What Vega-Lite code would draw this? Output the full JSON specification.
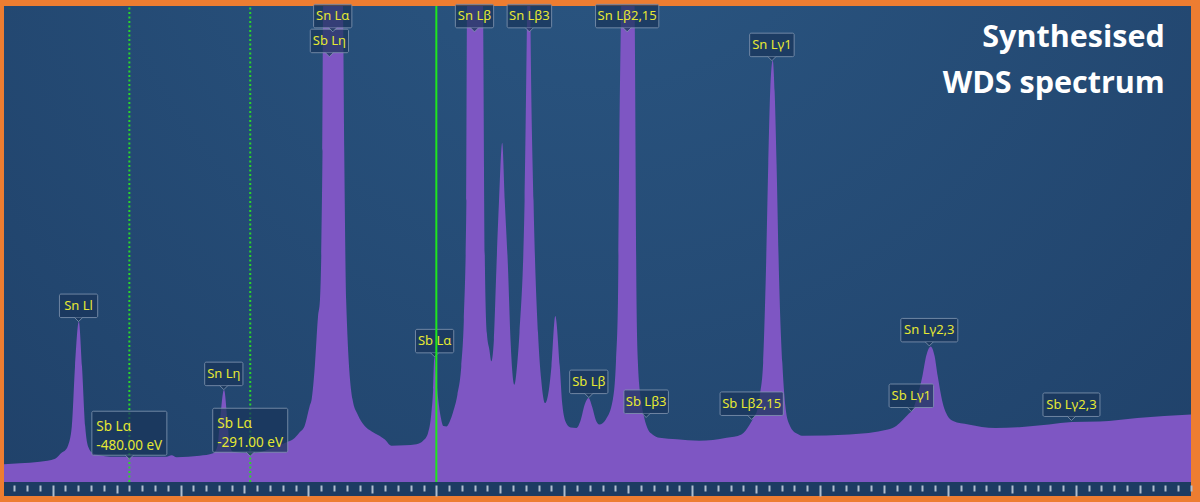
{
  "$schema": "https://vega.github.io/schema/vega-lite/v6.json",
  "width": 1200,
  "height": 502,
  "autosize": {"type": "fit", "contains": "padding"},
  "padding": {"left": 4, "top": 4, "right": 8, "bottom": 5},
  "background": "#ED7D31",
  "view": {
    "stroke": null,
    "fill": {"gradient": "radial", "x1": 0.5, "y1": 0.15, "r1": 0, "x2": 0.5, "y2": 0.15, "r2": 0.8,
      "stops": [{"offset": 0, "color": "#2B5783"}, {"offset": 1, "color": "#1F4068"}]}
  },
  "datasets": {
    "spectrum": [
      {"e":2929,"c":36},{"e":2954,"c":38},{"e":2985,"c":41},{"e":3009,"c":47},{"e":3020,"c":60},{"e":3024,"c":63},
      {"e":3029,"c":73},{"e":3035,"c":112},{"e":3040,"c":232},{"e":3046,"c":323},{"e":3051,"c":232},{"e":3056,"c":112},
      {"e":3061,"c":70},{"e":3068,"c":58},{"e":3079,"c":54},{"e":3095,"c":51},{"e":3126,"c":51},{"e":3157,"c":51},
      {"e":3183,"c":51},{"e":3191,"c":54},{"e":3199,"c":50},{"e":3235,"c":53},{"e":3256,"c":58},{"e":3263,"c":73},
      {"e":3266,"c":113},{"e":3273,"c":186},{"e":3279,"c":113},{"e":3282,"c":73},{"e":3287,"c":61},{"e":3313,"c":58},
      {"e":3329,"c":60},{"e":3352,"c":70},{"e":3371,"c":80},{"e":3381,"c":86},{"e":3391,"c":100},{"e":3399,"c":113},
      {"e":3407,"c":153},{"e":3410,"c":166},{"e":3415,"c":233},{"e":3420,"c":333},{"e":3423,"c":366},{"e":3427,"c":666},
      {"e":3428,"c":958},{"e":3443,"c":1500},{"e":3459,"c":958},{"e":3461,"c":666},{"e":3464,"c":366},{"e":3474,"c":166},
      {"e":3482,"c":136},{"e":3493,"c":113},{"e":3504,"c":102},{"e":3516,"c":93},{"e":3524,"c":86},{"e":3535,"c":73},
      {"e":3556,"c":74},{"e":3574,"c":76},{"e":3585,"c":84},{"e":3592,"c":99},{"e":3597,"c":136},{"e":3600,"c":186},
      {"e":3602,"c":253},{"e":3605,"c":206},{"e":3608,"c":166},{"e":3612,"c":130},{"e":3616,"c":113},{"e":3621,"c":112},
      {"e":3626,"c":122},{"e":3631,"c":140},{"e":3638,"c":176},{"e":3644,"c":233},{"e":3648,"c":326},{"e":3652,"c":566},
      {"e":3653,"c":958},{"e":3666,"c":1500},{"e":3678,"c":958},{"e":3681,"c":433},{"e":3684,"c":300},{"e":3688,"c":266},
      {"e":3691,"c":243},{"e":3695,"c":286},{"e":3699,"c":433},{"e":3703,"c":566},{"e":3708,"c":683},{"e":3712,"c":566},
      {"e":3717,"c":433},{"e":3721,"c":286},{"e":3727,"c":196},{"e":3732,"c":246},{"e":3735,"c":300},{"e":3743,"c":566},
      {"e":3747,"c":958},{"e":3750,"c":1300},{"e":3752,"c":958},{"e":3757,"c":566},{"e":3764,"c":300},{"e":3769,"c":206},
      {"e":3775,"c":159},{"e":3781,"c":186},{"e":3785,"c":233},{"e":3791,"c":334},{"e":3798,"c":233},{"e":3802,"c":156},
      {"e":3808,"c":119},{"e":3815,"c":110},{"e":3824,"c":109},{"e":3831,"c":126},{"e":3837,"c":156},{"e":3843,"c":169},
      {"e":3849,"c":150},{"e":3854,"c":126},{"e":3860,"c":116},{"e":3870,"c":126},{"e":3881,"c":166},{"e":3886,"c":246},
      {"e":3889,"c":366},{"e":3891,"c":666},{"e":3894,"c":958},{"e":3904,"c":1500},{"e":3915,"c":958},{"e":3918,"c":366},
      {"e":3920,"c":246},{"e":3925,"c":166},{"e":3930,"c":130},{"e":3936,"c":106},{"e":3943,"c":96},{"e":3954,"c":89},
      {"e":3981,"c":86},{"e":4016,"c":83},{"e":4059,"c":89},{"e":4082,"c":96},{"e":4095,"c":116},{"e":4101,"c":130},
      {"e":4107,"c":146},{"e":4111,"c":176},{"e":4116,"c":240},{"e":4120,"c":406},{"e":4124,"c":640},{"e":4127,"c":786},
      {"e":4131,"c":849},{"e":4134,"c":786},{"e":4137,"c":640},{"e":4141,"c":406},{"e":4146,"c":240},{"e":4152,"c":140},
      {"e":4157,"c":116},{"e":4161,"c":106},{"e":4170,"c":97},{"e":4179,"c":93},{"e":4251,"c":96},{"e":4311,"c":106},
      {"e":4324,"c":113},{"e":4335,"c":126},{"e":4344,"c":138},{"e":4350,"c":146},{"e":4357,"c":172},{"e":4365,"c":213},
      {"e":4371,"c":254},{"e":4378,"c":273},{"e":4384,"c":254},{"e":4389,"c":213},{"e":4398,"c":153},{"e":4404,"c":134},
      {"e":4413,"c":123},{"e":4437,"c":116},{"e":4479,"c":109},{"e":4521,"c":111},{"e":4563,"c":116},{"e":4599,"c":121},
      {"e":4642,"c":122},{"e":4701,"c":129},{"e":4785,"c":136}
    ],
    "peaks": [
      {"label":"Sn Ll","e":3045.6,"c":323},
      {"label":"Sn Lη","e":3272.7,"c":186},
      {"label":"Sn Lα","e":3443,"c":906},
      {"label":"Sb Lη","e":3437.8,"c":856},
      {"label":"Sb Lα","e":3602.3,"c":252},
      {"label":"Sn Lβ","e":3664.7,"c":906},
      {"label":"Sn Lβ3","e":3750.5,"c":906},
      {"label":"Sb Lβ","e":3843.4,"c":170},
      {"label":"Sn Lβ2,15","e":3903.4,"c":906},
      {"label":"Sb Lβ3","e":3933.1,"c":130},
      {"label":"Sb Lβ2,15","e":4098.1,"c":126},
      {"label":"Sn Lγ1","e":4129.7,"c":848},
      {"label":"Sb Lγ1","e":4347.7,"c":142},
      {"label":"Sn Lγ2,3","e":4375.8,"c":274},
      {"label":"Sb Lγ2,3","e":4598.1,"c":124}
    ],
    "markers": [
      {"label":"Sb Lα\n-480.00 eV","e":3125,"c":46},
      {"label":"Sb Lα\n-291.00 eV","e":3314,"c":52}
    ]
  },
  "layer": [
    {
      "data": {"values": [{}]},
      "mark": {"type": "rect", "color": "#1D3C62"},
      "encoding": {
        "y": {"datum": -28, "type": "quantitative", "scale": {"domain": [-28, 958], "nice": false, "zero": false}, "axis": null},
        "y2": {"datum": 0}
      }
    },
    {
      "data": {"name": "spectrum"},
      "mark": {"type": "area", "color": "#7E56C3", "interpolate": "monotone", "clip": true},
      "encoding": {
        "x": {"field": "e", "type": "quantitative", "title": null,
          "scale": {"domain": [2929, 4785], "nice": false, "zero": false},
          "axis": {
            "values": [2945,2965,2985,3005,3025,3045,3065,3085,3105,3125,3145,3165,3185,3205,3225,3245,3265,3285,3305,3325,3345,3365,3385,3405,3425,3445,3465,3485,3505,3525,3545,3565,3585,3605,3625,3645,3665,3685,3705,3725,3745,3765,3785,3805,3825,3845,3865,3885,3905,3925,3945,3965,3985,4005,4025,4045,4065,4085,4105,4125,4145,4165,4185,4205,4225,4245,4265,4285,4305,4325,4345,4365,4385,4405,4425,4445,4465,4485,4505,4525,4545,4565,4585,4605,4625,4645,4665,4685,4705,4725,4745,4765,4785],
            "tickCount": 1000,
            "labels": false, "domain": false, "grid": false, "ticks": true, "title": null, "zindex": 2,
            "tickColor": "#AFBCCD", "tickWidth": 2, "offset": -11,
            "tickSize": {"condition": [
              {"test": "(datum.value - 3605) % 200 === 0", "value": 11},
              {"test": "(datum.value - 3605) % 100 === 0", "value": 8}
            ], "value": 6}
          }
        },
        "y": {"field": "c", "type": "quantitative", "scale": {"domain": [-28, 958], "nice": false, "zero": false}, "axis": null},
        "y2": {"datum": 0}
      }
    },
    {
      "data": {"name": "markers"},
      "mark": {"type": "rule", "color": "#2AD62A", "strokeWidth": 2, "strokeDash": [2, 2.5]},
      "encoding": {
        "x": {"field": "e", "type": "quantitative", "title": null, "scale": {"domain": [2929, 4785], "nice": false, "zero": false}},
        "y": {"datum": 0, "type": "quantitative", "scale": {"domain": [-28, 958], "nice": false, "zero": false}, "axis": null},
        "y2": {"datum": 958}
      }
    },
    {
      "data": {"name": "peaks"},
      "mark": {"type": "rect", "fill": "#19355A", "fillOpacity": 0.72, "stroke": "#8397B2", "strokeOpacity": 0.8, "strokeWidth": 1, "cornerRadius": 1.5,
        "xOffset": {"expr": "-(6.25*length(datum.label)+7)/2"},
        "x2Offset": {"expr": "(6.25*length(datum.label)+7)/2"},
        "yOffset": -27.5, "y2Offset": -4},
      "encoding": {
        "x": {"field": "e", "type": "quantitative", "title": null, "scale": {"domain": [2929, 4785], "nice": false, "zero": false}},
        "x2": {"field": "e"},
        "y": {"field": "c", "type": "quantitative", "scale": {"domain": [-28, 958], "nice": false, "zero": false}, "axis": null},
        "y2": {"field": "c"}
      }
    },
    {
      "data": {"name": "markers"},
      "mark": {"type": "rect", "fill": "#19355A", "fillOpacity": 0.72, "stroke": "#8397B2", "strokeOpacity": 0.8, "strokeWidth": 1, "cornerRadius": 1.5,
        "xOffset": -37.5, "x2Offset": 37.5, "yOffset": -48, "y2Offset": -4},
      "encoding": {
        "x": {"field": "e", "type": "quantitative", "title": null, "scale": {"domain": [2929, 4785], "nice": false, "zero": false}},
        "x2": {"field": "e"},
        "y": {"field": "c", "type": "quantitative", "scale": {"domain": [-28, 958], "nice": false, "zero": false}, "axis": null},
        "y2": {"field": "c"}
      }
    },
    {
      "data": {"name": "peaks"},
      "mark": {"type": "point", "shape": "M -1 -1 L 0 0 L 1 -1", "size": 64, "filled": true, "fill": "#19355A", "fillOpacity": 0.72, "stroke": "#8397B2", "strokeOpacity": 0.8, "strokeWidth": 1, "opacity": 1},
      "encoding": {
        "x": {"field": "e", "type": "quantitative", "title": null, "scale": {"domain": [2929, 4785], "nice": false, "zero": false}},
        "y": {"field": "c", "type": "quantitative", "scale": {"domain": [-28, 958], "nice": false, "zero": false}, "axis": null}
      }
    },
    {
      "data": {"name": "markers"},
      "mark": {"type": "point", "shape": "M -1 -1 L 0 0 L 1 -1", "size": 64, "filled": true, "fill": "#19355A", "fillOpacity": 0.72, "stroke": "#8397B2", "strokeOpacity": 0.8, "strokeWidth": 1, "opacity": 1},
      "encoding": {
        "x": {"field": "e", "type": "quantitative", "title": null, "scale": {"domain": [2929, 4785], "nice": false, "zero": false}},
        "y": {"field": "c", "type": "quantitative", "scale": {"domain": [-28, 958], "nice": false, "zero": false}, "axis": null}
      }
    },
    {
      "data": {"values": [{"e": 3605}]},
      "mark": {"type": "rule", "color": "#1EE61E", "strokeWidth": 2},
      "encoding": {
        "x": {"field": "e", "type": "quantitative", "title": null, "scale": {"domain": [2929, 4785], "nice": false, "zero": false}},
        "y": {"datum": 0, "type": "quantitative", "scale": {"domain": [-28, 958], "nice": false, "zero": false}, "axis": null},
        "y2": {"datum": 958}
      }
    },
    {
      "data": {"name": "peaks"},
      "mark": {"type": "text", "font": "Noto Sans", "fontSize": 13, "color": "#E6E833", "align": "center", "baseline": "middle", "yOffset": -15.5},
      "encoding": {
        "x": {"field": "e", "type": "quantitative", "title": null, "scale": {"domain": [2929, 4785], "nice": false, "zero": false}},
        "y": {"field": "c", "type": "quantitative", "scale": {"domain": [-28, 958], "nice": false, "zero": false}, "axis": null},
        "text": {"field": "label"}
      }
    },
    {
      "data": {"name": "markers"},
      "mark": {"type": "text", "font": "Noto Sans", "fontSize": 13.5, "color": "#E6E833", "align": "left", "baseline": "middle", "lineBreak": "\n", "lineHeight": 19, "xOffset": -33, "yOffset": -32},
      "encoding": {
        "x": {"field": "e", "type": "quantitative", "title": null, "scale": {"domain": [2929, 4785], "nice": false, "zero": false}},
        "y": {"field": "c", "type": "quantitative", "scale": {"domain": [-28, 958], "nice": false, "zero": false}, "axis": null},
        "text": {"field": "label"}
      }
    },
    {
      "data": {"values": [{"t": ["Synthesised", "WDS spectrum"]}]},
      "mark": {"type": "text", "font": "Open Sans", "fontSize": 30.5, "fontWeight": "bold", "color": "#FFFFFF", "align": "right", "baseline": "alphabetic", "lineHeight": 46},
      "encoding": {
        "x": {"datum": 4744, "type": "quantitative", "title": null, "scale": {"domain": [2929, 4785], "nice": false, "zero": false}},
        "y": {"datum": 876, "type": "quantitative", "scale": {"domain": [-28, 958], "nice": false, "zero": false}, "axis": null},
        "text": {"field": "t"}
      }
    }
  ]
}
